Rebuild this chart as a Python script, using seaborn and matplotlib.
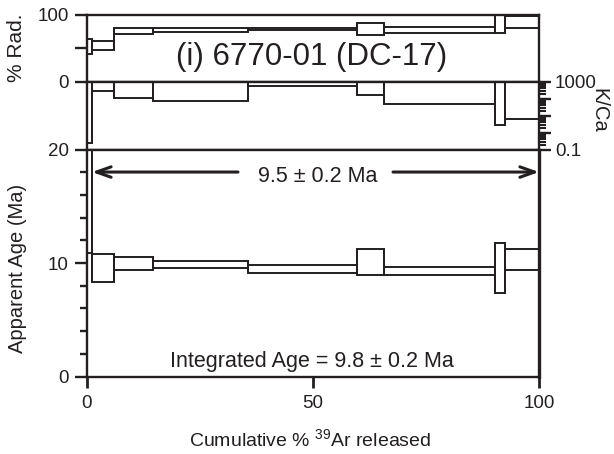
import numpy as np
import matplotlib
matplotlib.use("Agg")
import matplotlib.pyplot as plt
from matplotlib.ticker import FixedLocator, NullFormatter
import seaborn as sns

# ---- data ----
cum_edges = [0.0, 1.1, 6.0, 14.5, 35.7, 59.7, 65.7, 90.3, 92.5, 100.0]   # cumulative % 39Ar
rad_val = [52.0, 54.0, 75.7, 77.5, 77.7, 78.3, 77.0, 86.0, 88.6]          # % radiogenic
rad_err = [11.0, 7.0, 4.7, 3.0, 1.5, 8.7, 4.0, 13.0, 9.0]
kca_low = [0.25, 280, 103, 78, 557, 163, 46, 2.75, 6.8]                  # K/Ca error envelope
kca_high = [3000, 3000, 3000, 3000, 912, 3000, 3000, 3000, 3000]
age_val = [16.0, 9.57, 9.98, 9.88, 9.49, 10.08, 9.32, 9.57, 10.30]       # apparent age (Ma)
age_err = [5.1, 1.21, 0.59, 0.34, 0.34, 1.13, 0.37, 2.23, 0.91]
plateau = [1.1, 100.0]
title = "(i) 6770-01 (DC-17)"
plateau_label = "9.5 ± 0.2 Ma"
integrated_label = "Integrated Age = 9.8 ± 0.2 Ma"

INK = "#231f20"

sns.set_theme(style="ticks")
plt.rcParams["font.family"] = ["Liberation Sans", "DejaVu Sans"]
plt.rcParams["mathtext.default"] = "regular"
plt.rcParams["text.color"] = INK
plt.rcParams["axes.edgecolor"] = INK
plt.rcParams["xtick.color"] = INK
plt.rcParams["ytick.color"] = INK

fig = plt.figure(figsize=(6.14, 4.54), dpi=100)
H = 454.0
L = 87 / 614
W = 452 / 614
ax_rad = fig.add_axes([L, 1 - 81.7 / H, W, 67.2 / H])
ax_kca = fig.add_axes([L, 1 - 149.7 / H, W, 68.0 / H], sharex=ax_rad)
ax_age = fig.add_axes([L, 1 - 376.5 / H, W, 226.8 / H], sharex=ax_rad)

edges = np.array(cum_edges)
left = edges[:-1]
width = np.diff(edges)


def steps(ax, lo, hi):
    lo = np.asarray(lo, float)
    hi = np.asarray(hi, float)
    ax.bar(left, hi - lo, bottom=lo, width=width, align="edge", color="white",
           edgecolor=INK, linewidth=1.4, zorder=2)
    for i in range(len(lo) - 1):
        ax.vlines(edges[i + 1], min(lo[i], lo[i + 1]), max(hi[i], hi[i + 1]),
                  color=INK, lw=1.4, zorder=3)


rv = np.array(rad_val); re_ = np.array(rad_err)
steps(ax_rad, rv - re_, rv + re_)
ax_kca.set_yscale("log")
steps(ax_kca, kca_low, kca_high)
av = np.array(age_val); ae = np.array(age_err)
steps(ax_age, av - ae, av + ae)

for ax in (ax_rad, ax_kca, ax_age):
    ax.set_xlim(0, 100)
    for s in ax.spines.values():
        s.set_linewidth(1.7)
        s.set_visible(True)
        s.set_zorder(5)
    ax.tick_params(axis="x", bottom=False, labelbottom=False)
    ax.set_facecolor("white")

ax_age.spines["right"].set_linewidth(2.4)

# % Rad panel
ax_rad.set_ylim(0, 100)
ax_rad.set_yticks([0, 50, 100])
ax_rad.set_yticklabels(["0", "", "100"])
ax_rad.tick_params(axis="y", direction="out", length=8.6, width=1.7, labelsize=13.5, pad=4.5)
ax_rad.text(49.8, 24.9, title, ha="center", va="baseline", fontsize=22.5)

# K/Ca panel
ax_kca.set_ylim(0.1, 1000)
ax_kca.yaxis.tick_right()
ax_kca.yaxis.set_major_locator(FixedLocator([0.1, 1, 10, 100, 1000]))
ax_kca.set_yticklabels(["0.1", "", "", "", "1000"])
minors = [m * d for d in (0.1, 1, 10, 100) for m in range(2, 10)]
ax_kca.yaxis.set_minor_locator(FixedLocator(minors))
ax_kca.yaxis.set_minor_formatter(NullFormatter())
ax_kca.tick_params(axis="y", which="major", direction="out", length=8.6, width=1.7,
                   labelsize=13.5, pad=3)
ax_kca.tick_params(axis="y", which="minor", direction="out", length=5, width=1.5)

# Age panel
ax_age.set_ylim(0, 20)
ax_age.set_yticks([0, 10, 20])
ax_age.set_yticks(np.arange(2, 20, 2), minor=True)
ax_age.yaxis.set_minor_formatter(NullFormatter())
ax_age.tick_params(axis="y", which="major", direction="out", length=8.6, width=1.7,
                   labelsize=13.5, pad=4.5)
ax_age.tick_params(axis="y", which="minor", direction="out", length=5, width=1.7)
ax_age.set_xticks([0, 50, 100])
ax_age.tick_params(axis="x", bottom=True, labelbottom=True, direction="out", length=8,
                   width=2.0, labelsize=13.5, pad=5)

ax_age.text(51.0, 17.18, plateau_label, ha="center", va="baseline", fontsize=15.5)
arrow_kw = dict(arrowstyle="->,head_length=0.7,head_width=0.25", lw=2.2, color=INK,
                mutation_scale=15, shrinkA=0, shrinkB=0)
ax_age.annotate("", xy=(plateau[0], 18.03), xytext=(33.4, 18.03), arrowprops=arrow_kw)
ax_age.annotate("", xy=(plateau[1], 18.03), xytext=(67.7, 18.03), arrowprops=arrow_kw)
ax_age.text(49.7, 0.86, integrated_label, ha="center", va="baseline", fontsize=15.5)

# axis labels
fig.text(17 / 614, 1 - 48 / H, "% Rad.", rotation=90, ha="center", va="center", fontsize=15)
fig.text(18 / 614, 1 - 268 / H, "Apparent Age (Ma)", rotation=90, ha="center", va="center",
         fontsize=14.5)
fig.text(599 / 614, 1 - 110 / H, "K/Ca", rotation=270, ha="center", va="center", fontsize=14.5)
fig.text(310 / 614, 1 - 439 / H, r"Cumulative % $^{39}$Ar released", ha="center",
         va="center", fontsize=14)

fig.savefig("out.png", dpi=100, facecolor="white")
